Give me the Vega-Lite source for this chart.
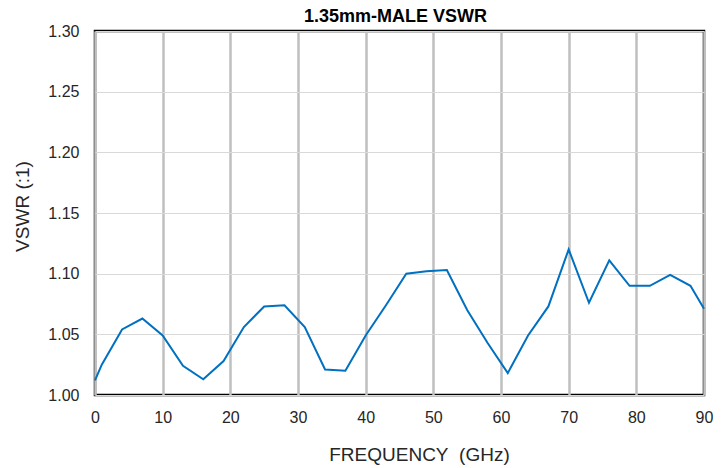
{
  "$schema": "https://vega.github.io/schema/vega-lite/v6.json",
  "width": 609,
  "height": 364,
  "autosize": {"type": "none"},
  "padding": {"left": 95, "top": 31, "right": 24, "bottom": 73},
  "background": "white",
  "config": {
    "font": "Liberation Sans",
    "view": {"stroke": "black", "strokeWidth": 2.5},
    "title": {"font": "Liberation Sans", "fontSize": 18, "fontWeight": "bold", "color": "black", "offset": -3, "dx": -4}
  },
  "title": {"text": "1.35mm-MALE VSWR", "anchor": "middle"},
  "data": {
    "values": [
      {"f": 0, "v": 1.012},
      {"f": 1, "v": 1.025},
      {"f": 4, "v": 1.054},
      {"f": 7, "v": 1.063},
      {"f": 10, "v": 1.049},
      {"f": 13, "v": 1.024},
      {"f": 16, "v": 1.013},
      {"f": 19, "v": 1.028},
      {"f": 22, "v": 1.056},
      {"f": 25, "v": 1.073},
      {"f": 28, "v": 1.074},
      {"f": 31, "v": 1.056},
      {"f": 34, "v": 1.021},
      {"f": 37, "v": 1.020},
      {"f": 40, "v": 1.049},
      {"f": 43, "v": 1.074},
      {"f": 46, "v": 1.100},
      {"f": 49, "v": 1.102},
      {"f": 52, "v": 1.103},
      {"f": 55, "v": 1.070},
      {"f": 58, "v": 1.043},
      {"f": 61, "v": 1.018},
      {"f": 64, "v": 1.049},
      {"f": 67, "v": 1.073},
      {"f": 70, "v": 1.120},
      {"f": 73, "v": 1.076},
      {"f": 76, "v": 1.111},
      {"f": 79, "v": 1.090},
      {"f": 82, "v": 1.090},
      {"f": 85, "v": 1.099},
      {"f": 88, "v": 1.090},
      {"f": 90, "v": 1.071}
    ]
  },
  "mark": {"type": "line", "color": "#0070C0", "strokeWidth": 2},
  "encoding": {
    "x": {
      "field": "f", "type": "quantitative",
      "scale": {"domain": [0, 90], "nice": false, "zero": false},
      "axis": {
        "title": "FREQUENCY\u00a0\u00a0(GHz)",
        "values": [0, 10, 20, 30, 40, 50, 60, 70, 80, 90],
        "domain": false, "ticks": false,
        "labelPadding": 14, "labelFontSize": 16, "labelColor": "#262626", "labelFont": "Liberation Sans",
        "labelFlush": false,
        "gridColor": "#bfbfbf", "gridWidth": 2.5,
        "titleFontSize": 19, "titleFontWeight": "normal", "titleColor": "#262626", "titleFont": "Liberation Sans",
        "titleX": 324, "titleAnchor": "middle",
        "titlePadding": 20
      }
    },
    "y": {
      "field": "v", "type": "quantitative",
      "scale": {"domain": [1.0, 1.3], "nice": false, "zero": false},
      "axis": {
        "title": "VSWR (:1)",
        "values": [1.0, 1.05, 1.1, 1.15, 1.2, 1.25, 1.3],
        "format": ".2f",
        "domain": false, "ticks": false,
        "labelPadding": 16, "labelFontSize": 16, "labelColor": "#262626", "labelFont": "Liberation Sans",
        "gridColor": "#d9d9d9", "gridWidth": 1,
        "titleFontSize": 19, "titleFontWeight": "normal", "titleColor": "#262626", "titleFont": "Liberation Sans",
        "titleY": 175,
        "titlePadding": 15
      }
    }
  }
}
